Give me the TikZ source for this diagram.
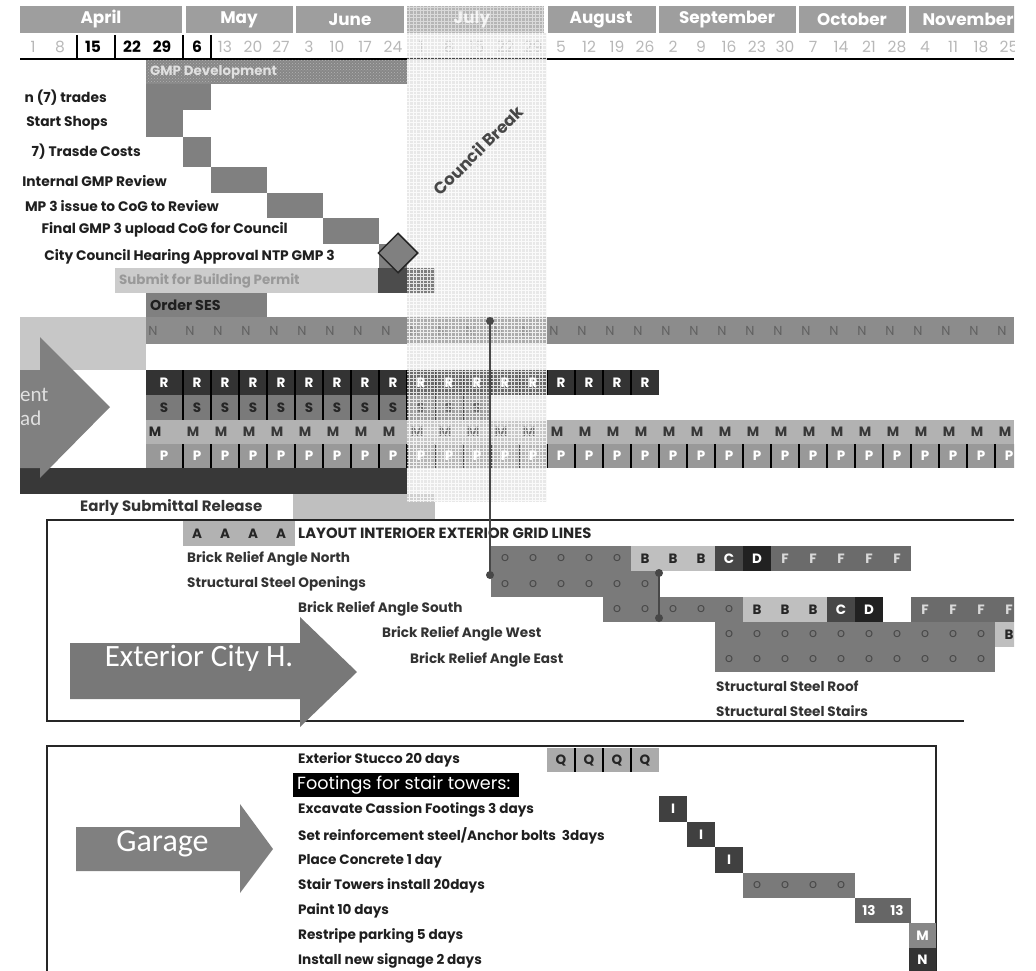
\documentclass[tikz,border=0pt]{standalone}
\usepackage{fontspec}
\setmainfont{Poppins}
\newfontfamily\calib{Carlito}
\usetikzlibrary{patterns,shapes.geometric}
\newcommand\fsz[1]{\fontsize{#1}{#1}\selectfont}
\tikzset{
  tl/.style={inner sep=0pt, font=\bfseries\fsz{13.8}, text=black!88},
  el/.style={inner sep=0pt, font=\bfseries\fsz{13.6}, text=black!80},
  gl/.style={inner sep=0pt, font=\bfseries\fsz{13.6}, text=black!88},
  cl/.style={inner sep=0pt, font=\bfseries\fsz{13.5}},
  cw/.style={text=white},
  ck/.style={text=black!85},
  co/.style={font=\fsz{12.5}, text=black!72},
  cn/.style={font=\fsz{13}, text=black!62},
  wk/.style={inner sep=0pt, font=\fsz{15.5}, text=black!28},
  wkb/.style={inner sep=0pt, font=\bfseries\fsz{15.5}, text=black},
  mo/.style={inner sep=0pt, font=\bfseries\fsz{16.8}, text=white},
  mon/.style={fill=black!38},
  sepl/.style={black, line width=1.6pt},
  taskbar/.style={fill=black!50},
  bigarrow/.style={inner sep=0pt, font=\calib, text=white},
  conn/.style={black!72, line width=2.2pt},
  boxline/.style={black!85, line width=1.4pt},
}
\newcommand\cellrow[8]{%
  \fill[#6] ({183+28*#2},#4) rectangle ({211+28*#3},#5);
  \foreach \i in {#2,...,#3}{\node[cl,#8] (#1\i) at ({197+28*\i},{(#4+#5)/2}) {#7};}
}
\newcommand\seprow[4]{%
  \foreach \i in {#1,...,#2}{\draw[sepl] ({183+28*\i},#3) -- ({183+28*\i},#4);}
}
\begin{document}
\begin{tikzpicture}[x=1pt,y=-1pt]
\useasboundingbox (0,0) rectangle (1036,971);
\begin{scope}
\clip (18,0) rectangle (1014,971);
% council break base
\fill[black!12] (407,33) rectangle (547,502);
% month header
\fill[mon] (20,6) rectangle (182,33);   \node[mo] (mapr) at (101,19.5) {April};
\fill[mon] (186,6) rectangle (293,33);  \node[mo] (mmay) at (239,19.5) {May};
\fill[mon] (296,6) rectangle (404,33);  \node[mo] (mjun) at (350,19.5) {June};
\fill[black!36] (407,6) rectangle (544,33); \node[mo, text=white!92!black] (mjul) at (472,19.5) {July};
\fill[mon] (548,6) rectangle (656,33);  \node[mo] (maug) at (601,19.5) {August};
\fill[mon] (659,6) rectangle (796,33);  \node[mo] (msep) at (727,19.5) {September};
\fill[mon] (799,6) rectangle (906,33);  \node[mo] (moct) at (852,19.5) {October};
\fill[mon] (909,6) rectangle (1030,33); \node[mo] (mnov) at (968,19.5) {November};
% week numbers
\node[wk] (wa) at (33,47) {1};
\node[wk] (wb) at (60,47) {8};
\node[wkb] (wc) at (93,47) {15};
\node[wkb] (wd) at (132,47) {22};
\node[wkb] (we) at (162,47) {29};
\node[wkb] (w0) at (197,47) {6};
\foreach \t [count=\i from 1] in {13,20,27,3,10,17,24,1,8,15,22,29,5,12,19,26,2,9,16,23,30,7,14,21,28,4,11,18,25}{
  \node[wk] (w\i) at ({197+28*\i},47) {\t};
}
\foreach \x in {77,115,183,211}{\draw[sepl] (\x,35) -- (\x,59);}
\draw[black, line width=2pt] (20,59) -- (1014,59);
% top tasks
\fill[black!47] (146,60) rectangle (407,84);
\fill[pattern=crosshatch dots, pattern color=black!30] (146,60) rectangle (407,84);
\node[inner sep=0pt, anchor=west, font=\bfseries\fsz{13.4}, text=black!12] (gmp) at (150,72) {GMP Development};
\fill[taskbar] (146,84) rectangle (211,110);
\fill[taskbar] (146,110) rectangle (183,137);
\fill[taskbar] (183,137) rectangle (211,167);
\fill[taskbar] (211,167) rectangle (267,193);
\fill[taskbar] (267,193) rectangle (323,218);
\fill[taskbar] (323,218) rectangle (379,244);
\fill[taskbar] (379,244) rectangle (407,268);
\node[tl, anchor=east] (t1) at (107,98) {n (7) trades};
\node[tl, anchor=east] (t2) at (108,123) {Start Shops};
\node[tl, anchor=east] (t3) at (141,152) {7) Trasde Costs};
\node[tl, anchor=east] (t4) at (167,181) {Internal GMP Review};
\node[tl, anchor=east] (t5) at (219,206) {MP 3 issue to CoG to Review};
\node[tl, anchor=east] (t6) at (288,230) {Final GMP 3 upload CoG for Council};
\node[tl, anchor=east] (t7) at (335,257) {City Council Hearing Approval NTP GMP 3};
\fill[black!20] (115,268) rectangle (378,293);
\node[tl, anchor=west, text=black!40, font=\bfseries\fsz{13.4}] (sbp) at (119,280.5) {Submit for Building Permit};
\fill[black!70] (378,268) rectangle (435,293);
\fill[taskbar] (146,293) rectangle (267,318);
\node[tl, anchor=west, font=\bfseries\fsz{14.3}] (ses) at (150,305.5) {Order SES};
% N row
\fill[black!45] (146,317) rectangle (1014,344);
\node[cl, cn] (nfirst) at (153,330.5) {N};
\foreach \i in {0,...,29}{\node[cl, cn] (nn\i) at ({190+28*\i},330.5) {N};}
\fill[black!22] (20,317) rectangle (146,370);
% R row
\fill[black!80] (146,370) rectangle (183,395);
\node[cl, cw] (rfirst) at (164,382.5) {R};
\cellrow{rr}{0}{16}{370}{395}{black!80}{R}{cw}
\seprow{0}{16}{370}{395}
% S row
\fill[black!52] (146,395) rectangle (183,420);
\node[cl, ck] (sfirst) at (164,407.5) {S};
\cellrow{ss}{0}{10}{395}{420}{black!52}{S}{ck}
\seprow{0}{10}{395}{420}
% M row
\fill[black!30] (146,420) rectangle (1014,444);
\node[cl, ck] (mfirst) at (155,432) {M};
\foreach \i in {0,...,29}{\node[cl, text=black!78] (mm\i) at ({193+28*\i},432) {M};}
% P row
\fill[black!40] (146,444) rectangle (183,468);
\node[cl, cw] (pfirst) at (164,456) {P};
\cellrow{pp}{0}{29}{444}{468}{black!40}{P}{cw}
\seprow{0}{29}{444}{468}
% dark bar and early submittal
\fill[black!78] (20,468) rectangle (407,494);
\fill[black!25] (293,494) rectangle (435,519);
\node[tl, anchor=west, text=black!80, font=\bfseries\fsz{15}] (esr) at (80,507) {Early Submittal Release};
% procurement arrow
\fill[black!50] (20,370) -- (40,370) -- (40,337) -- (110,407) -- (40,478) -- (40,468) -- (20,468) -- cycle;
\node[bigarrow, anchor=west, font=\calib\fsz{21}, text=white!88!black] (ent) at (20,395) {ent};
\node[bigarrow, anchor=west, font=\calib\fsz{21}, text=white!88!black] (ad) at (20,418) {ad};
% council break overlay
\fill[white, opacity=0.28] (407,33) rectangle (547,502);
\draw[white, line width=0.7pt, opacity=0.8, step=3.5pt] (407,33) grid (547,502);
\fill[white, opacity=0.2] (407,6) rectangle (544,33);
\draw[white, line width=0.6pt, opacity=0.5, step=3.5pt] (407,6) grid (544,33);
\node[inner sep=0pt, rotate=45, font=\bfseries\fsz{16.5}, text=black!72] (cbreak) at (478,150) {Council Break};
\node[diamond, draw=black!85, line width=1.5pt, fill=black!50, minimum width=40pt, minimum height=40pt, inner sep=0pt] (ntp) at (398,253) {};
% exterior section
\draw[boxline] (1014,520) -- (47,520) -- (47,721) -- (964,721);
\fill[black!30] (183,521) rectangle (295,546);
\foreach \i in {0,...,3}{\node[cl, ck] (aa\i) at ({197+28*\i},533.5) {A};}
\node[el, anchor=west, text=black!85, font=\bfseries\fsz{14.8}] (layout) at (298,533.5) {LAYOUT INTERIOER EXTERIOR GRID LINES};
\node[el, anchor=west] (e1) at (187,559) {Brick Relief Angle North};
\node[el, anchor=west] (e2) at (187,583.5) {Structural Steel Openings};
\node[el, anchor=west] (e3) at (298,609) {Brick Relief Angle South};
\node[el, anchor=west] (e4) at (382,634) {Brick Relief Angle West};
\node[el, anchor=west] (e5) at (410,660) {Brick Relief Angle East};
\node[el, anchor=west] (e6) at (716,686) {Structural Steel Roof};
\node[el, anchor=west] (e7) at (716,711) {Structural Steel Stairs};
% north
\cellrow{no}{11}{15}{546}{571}{black!52}{o}{co}
\cellrow{nb}{16}{18}{546}{571}{black!25}{B}{ck}
\cellrow{nc}{19}{19}{546}{571}{black!72}{C}{cw}
\cellrow{nd}{20}{20}{546}{571}{black!87}{D}{cw}
\cellrow{nf}{21}{25}{546}{571}{black!58}{F}{text=black!15}
% openings
\cellrow{oo}{11}{16}{571}{597}{black!52}{o}{co}
% south
\cellrow{so}{15}{19}{597}{622}{black!52}{o}{co}
\cellrow{sb}{20}{22}{597}{622}{black!25}{B}{ck}
\cellrow{sc}{23}{23}{597}{622}{black!72}{C}{cw}
\cellrow{sd}{24}{24}{597}{622}{black!87}{D}{cw}
\cellrow{sf}{26}{29}{597}{622}{black!58}{F}{text=black!15}
% west, east
\cellrow{wo}{19}{28}{622}{647}{black!52}{o}{co}
\cellrow{wb}{29}{29}{622}{647}{black!25}{B}{ck}
\cellrow{eo}{19}{28}{647}{672}{black!52}{o}{co}
% exterior arrow
\fill[black!53] (70,643) -- (300,643) -- (300,617) -- (357,672) -- (300,727) -- (300,699) -- (70,699) -- cycle;
\node[bigarrow, anchor=base, font=\calib\fsz{31}] (ext) at (199,666) {Exterior City H.};
% garage
\draw[boxline] (47,985) -- (47,746) -- (936,746) -- (936,985);
\fill[black!50] (76,827) -- (240,827) -- (240,804) -- (273,849) -- (240,893) -- (240,871) -- (76,871) -- cycle;
\node[bigarrow, anchor=base, font=\calib\fsz{32}] (gar) at (162.5,851) {Garage};
\node[gl, anchor=west] (g1) at (298,760) {Exterior Stucco 20 days};
\fill[black] (293,773) rectangle (519,797);
\node[inner sep=0pt, anchor=west, font=\fsz{17.6}, text=white] (foot) at (297,785.5) {Footings for stair towers:};
\node[gl, anchor=west] (g2) at (298,810) {Excavate Cassion Footings 3 days};
\node[gl, anchor=west] (g3) at (298,836) {Set reinforcement steel/Anchor bolts\ \ 3days};
\node[gl, anchor=west] (g4) at (298,861) {Place Concrete 1 day};
\node[gl, anchor=west] (g5) at (298,886) {Stair Towers install 20days};
\node[gl, anchor=west] (g6) at (298,911) {Paint 10 days};
\node[gl, anchor=west] (g7) at (298,936) {Restripe parking 5 days};
\node[gl, anchor=west] (g8) at (298,961) {Install new signage 2 days};
\cellrow{qq}{13}{16}{748}{772}{black!33}{Q}{ck}
\seprow{14}{16}{748}{772}
\cellrow{ia}{17}{17}{796}{822}{black!75}{I}{cw}
\cellrow{ib}{18}{18}{822}{847}{black!75}{I}{cw}
\cellrow{ic}{19}{19}{847}{873}{black!75}{I}{cw}
\cellrow{st}{20}{23}{873}{898}{black!52}{o}{co}
\cellrow{pt}{24}{25}{898}{923}{black!60}{13}{cw}
\fill[black!47] (909,923) rectangle (936,948);
\node[cl, cw] (rm) at (922.5,935.5) {M};
\fill[black!80] (909,948) rectangle (936,975);
\node[cl, cw] (sn) at (922.5,960) {N};
% connectors
\coordinate (k1a) at (490,321);
\coordinate (k1b) at (490,575);
\coordinate (k2a) at (659,573);
\coordinate (k2b) at (659,618);
\draw[conn] (k1a) -- (k1b);
\draw[conn] (k2a) -- (k2b);
\foreach \k in {k1a,k1b,k2a,k2b}{\fill[black!72] (\k) circle (4);}
\end{scope}
\end{tikzpicture}
\end{document}
